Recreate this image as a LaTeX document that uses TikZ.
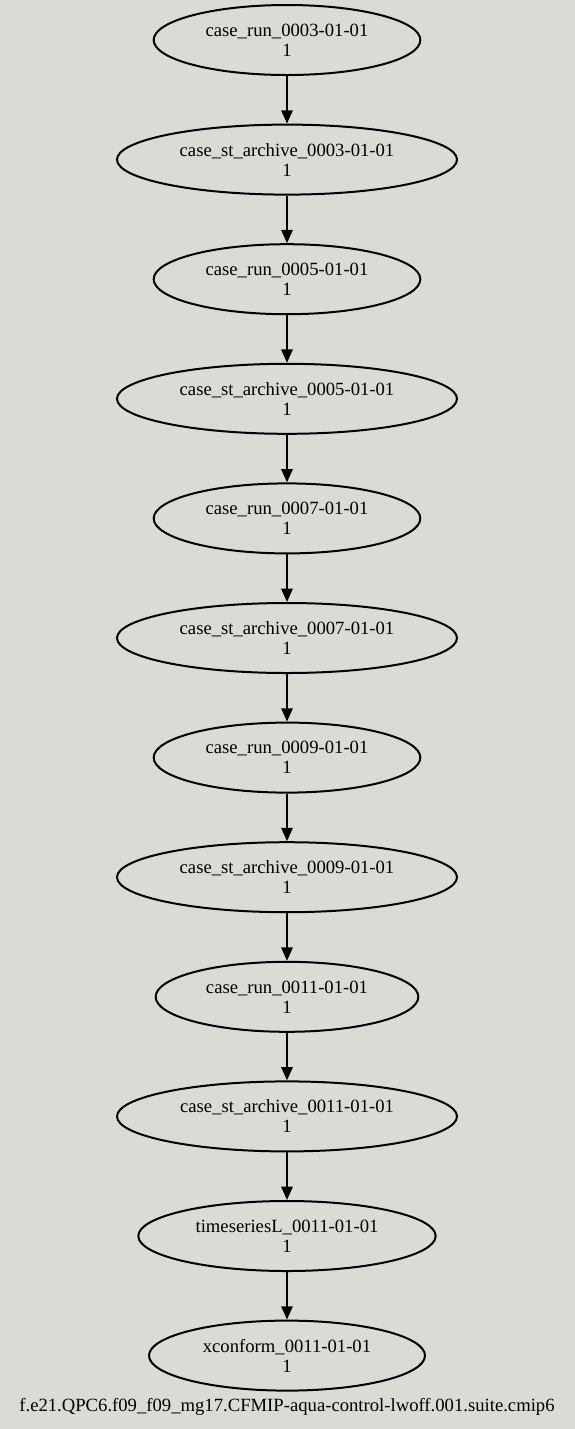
\documentclass[tikz,border=0pt]{standalone}
\usepackage{fontspec}
\setmainfont{Liberation Serif}
\usetikzlibrary{shapes.geometric,arrows.meta}
\definecolor{bgcol}{RGB}{220,218,213}
\begin{document}
\begin{tikzpicture}[x=0.75pt,y=-0.75pt,
  job/.style={ellipse,draw=black,line width=1.5pt,inner sep=0pt,
    minimum height=52.5pt,align=center,
    font=\fontsize{14}{15}\selectfont},
  wide/.style={minimum width=255pt},
  narrow/.style={minimum width=200pt},
  flow/.style={line width=1.5pt,-{Triangle[length=10pt,width=8.5pt]}}]
\fill[bgcol] (0,0) rectangle (575,1429);
\useasboundingbox (0,0) rectangle (575,1429);
\node[job,narrow] (r3) at (287,40) {case\_run\_0003-01-01\\1};
\node[job,wide] (a3) at (287,159.6) {case\_st\_archive\_0003-01-01\\1};
\node[job,narrow] (r5) at (287,279.2) {case\_run\_0005-01-01\\1};
\node[job,wide] (a5) at (287,398.8) {case\_st\_archive\_0005-01-01\\1};
\node[job,narrow] (r7) at (287,518.4) {case\_run\_0007-01-01\\1};
\node[job,wide] (a7) at (287,638) {case\_st\_archive\_0007-01-01\\1};
\node[job,narrow] (r9) at (287,757.6) {case\_run\_0009-01-01\\1};
\node[job,wide] (a9) at (287,877.2) {case\_st\_archive\_0009-01-01\\1};
\node[job,minimum width=197pt] (r11) at (287,996.8) {case\_run\_0011-01-01\\1};
\node[job,wide] (a11) at (287,1116.4) {case\_st\_archive\_0011-01-01\\1};
\node[job,minimum width=223pt] (ts) at (287,1236) {timeseriesL\_0011-01-01\\1};
\node[job,minimum width=207pt] (xc) at (287,1355.6) {xconform\_0011-01-01\\1};
\draw[flow] (r3) -- (a3);
\draw[flow] (a3) -- (r5);
\draw[flow] (r5) -- (a5);
\draw[flow] (a5) -- (r7);
\draw[flow] (r7) -- (a7);
\draw[flow] (a7) -- (r9);
\draw[flow] (r9) -- (a9);
\draw[flow] (a9) -- (r11);
\draw[flow] (r11) -- (a11);
\draw[flow] (a11) -- (ts);
\draw[flow] (ts) -- (xc);
\node[font=\fontsize{14}{15}\selectfont,inner sep=0pt] (cap) at (287,1407)
  {f.e21.QPC6.f09\_f09\_mg17.CFMIP-aqua-control-lwoff.001.suite.cmip6};
\end{tikzpicture}
\end{document}
